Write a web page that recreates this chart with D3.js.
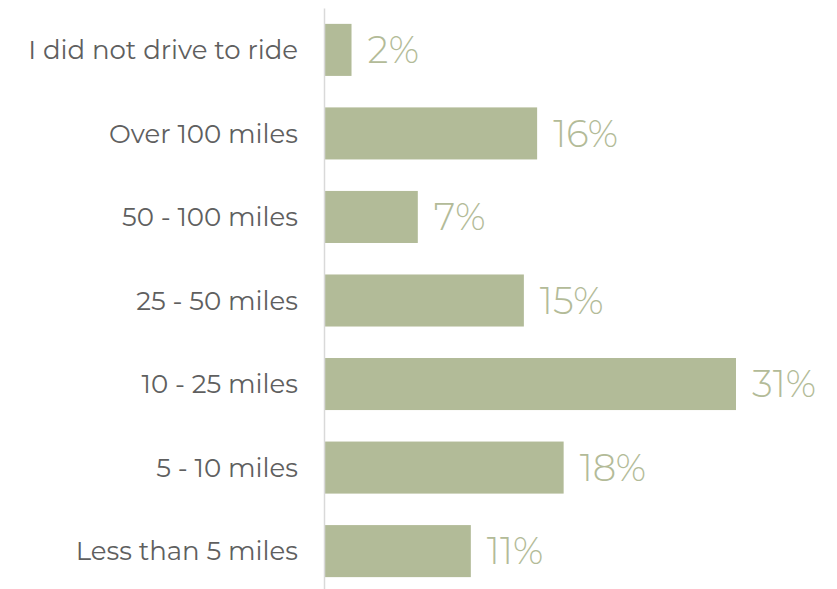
<!DOCTYPE html>
<html>
<head>
<meta charset="utf-8">
<script src="https://cdn.jsdelivr.net/npm/d3@7"></script>
<style>
  html, body { margin: 0; padding: 0; background: #ffffff; }
  svg { display: block; }
  .cat text { font-family: Montserrat, Inter, "Noto Sans", sans-serif; font-size: 26px; fill: #5f5f5f; }
  .val { font-family: Montserrat, Inter, "Noto Sans", sans-serif; font-size: 37px; font-weight: 300; fill: #b3bb98; }
</style>
</head>
<body>
<svg id="chart" width="837" height="589"></svg>
<script>
// Distance driven to the ride, share of respondents
const categories = [
  "I did not drive to ride",
  "Over 100 miles",
  "50 - 100 miles",
  "25 - 50 miles",
  "10 - 25 miles",
  "5 - 10 miles",
  "Less than 5 miles"
];
const values = [2, 16, 7, 15, 31, 18, 11];

const svg = d3.select("#chart");
const axisX = 324;

const x = d3.scaleLinear().domain([0, 31]).range([axisX + 1, axisX + 1 + 411]);
const y = d3.scaleBand()
  .domain(categories)
  .range([8, 593])
  .paddingInner(0.377)
  .paddingOuter(0.19);

// Bars
svg.append("g")
  .selectAll("rect")
  .data(values)
  .join("rect")
  .attr("x", x(0))
  .attr("y", (d, i) => y(categories[i]))
  .attr("width", d => x(d) - x(0))
  .attr("height", y.bandwidth())
  .attr("fill", "#b2bb98");

// Value labels
svg.append("g")
  .selectAll("text")
  .data(values)
  .join("text")
  .attr("class", "val")
  .attr("x", d => x(d) + 16)
  .attr("y", (d, i) => y(categories[i]) + y.bandwidth() / 2)
  .attr("dy", "0.36em")
  .text(d => d + "%");

// Category axis
const axis = svg.append("g")
  .attr("class", "cat")
  .attr("transform", `translate(${axisX},0)`)
  .call(d3.axisLeft(y).tickSize(0).tickPadding(26));
axis.select(".domain").attr("stroke", "#d9d9d9").attr("stroke-width", 1.5);
axis.selectAll("text").attr("dy", "0.36em");
</script>
</body>
</html>
